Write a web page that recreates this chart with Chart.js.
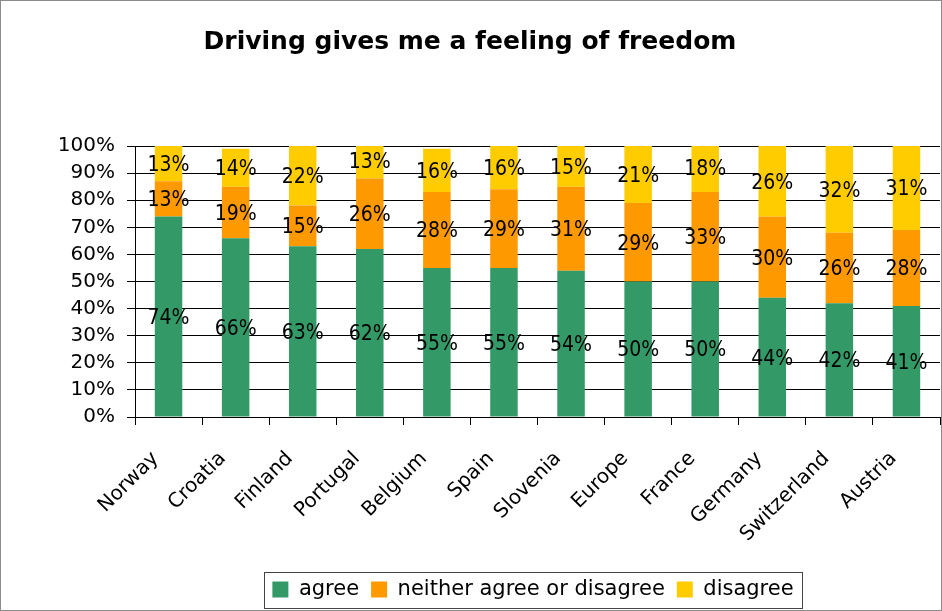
<!DOCTYPE html>
<html>
<head>
<meta charset="utf-8">
<title>Driving gives me a feeling of freedom</title>
<script src="https://cdn.jsdelivr.net/npm/chart.js@4"></script>
<style>
  html, body { margin: 0; padding: 0; background: #fff; }
  #wrap { width: 942px; height: 611px; position: relative; }
</style>
</head>
<body>
<div id="wrap"><canvas id="myChart" width="942" height="611"></canvas></div>
<script>
const countries = ['Norway', 'Croatia', 'Finland', 'Portugal', 'Belgium', 'Spain',
                   'Slovenia', 'Europe', 'France', 'Germany', 'Switzerland', 'Austria'];
const agree    = [74, 66, 63, 62, 55, 55, 54, 50, 50, 44, 42, 41];
const neither  = [13, 19, 15, 26, 28, 29, 31, 29, 33, 30, 26, 28];
const disagree = [13, 14, 22, 13, 16, 16, 15, 21, 18, 26, 32, 31];
const yTicks   = [0, 10, 20, 30, 40, 50, 60, 70, 80, 90, 100];

const FONT = "'DejaVu Sans', sans-serif";
const LEGEND_SHIFT = 63;
const LEGEND_PAD = 12;

// legend sits right of centre; move it after layout
const legendShift = {
  id: 'legendShift',
  afterLayout(chart) {
    const lg = chart.legend;
    // adjustHitBoxes adds the offsets again, so take them off first
    lg.legendHitBoxes.forEach(h => { h.top -= lg.top + LEGEND_PAD; });
    lg.left += LEGEND_SHIFT;
    lg.right += LEGEND_SHIFT;
    lg.adjustHitBoxes();
  }
};

// white page, thin frame round the whole chart, box round the legend items
const framePlugin = {
  id: 'frame',
  beforeDraw(chart) {
    const c = chart.ctx;
    c.save();
    c.fillStyle = '#fff';
    c.fillRect(0, 0, chart.width, chart.height);
    c.restore();
  },
  afterDraw(chart) {
    const c = chart.ctx;
    c.save();
    c.strokeStyle = '#8c8c8c';
    c.lineWidth = 1;
    c.strokeRect(0.5, 0.5, chart.width - 1, chart.height - 1);

    const hits = chart.legend.legendHitBoxes;
    if (hits && hits.length) {
      const first = hits[0], last = hits[hits.length - 1];
      const left = Math.round(first.left - 8);
      const right = Math.round(last.left + last.width + 8);
      const mid = first.top + first.height / 2;
      const top = Math.round(mid - 18);
      c.strokeStyle = '#444';
      c.strokeRect(left + 0.5, top + 0.5, right - left, 36);
    }
    c.restore();
  }
};

// percentage text in the middle of each segment
const valueLabels = {
  id: 'valueLabels',
  afterDatasetsDraw(chart) {
    const c = chart.ctx;
    c.save();
    c.font = "21px 'DejaVu Sans Condensed', 'DejaVu Sans', sans-serif";
    c.fillStyle = '#000';
    c.textAlign = 'center';
    c.textBaseline = 'middle';
    chart.data.datasets.forEach((ds, i) => {
      chart.getDatasetMeta(i).data.forEach((bar, j) => {
        const mid = (bar.y + bar.base) / 2 + 2;
        c.fillText(ds.data[j] + '%', bar.x, mid);
      });
    });
    c.restore();
  }
};

const ctx = document.getElementById('myChart').getContext('2d');
const chart1 = new Chart(ctx, {
  type: 'bar',
  data: {
    labels: countries,
    datasets: [
      { label: 'agree', data: agree, backgroundColor: '#339966' },
      { label: 'neither agree or disagree', data: neither, backgroundColor: '#FF9900' },
      { label: 'disagree', data: disagree, backgroundColor: '#FFCC00' }
    ]
  },
  options: {
    responsive: false,
    animation: false,
    layout: { padding: { left: 0, right: 2, top: 0, bottom: 1 } },
    datasets: {
      bar: { categoryPercentage: 1.0, barPercentage: 0.41 }
    },
    plugins: {
      title: {
        display: true,
        text: 'Driving gives me a feeling of freedom',
        color: '#000',
        font: { family: FONT, size: 25, weight: 'bold' },
        padding: { top: 27, bottom: 89 }
      },
      legend: {
        position: 'bottom',
        labels: {
          color: '#000',
          font: { family: FONT, size: 21 },
          boxWidth: 16,
          boxHeight: 16,
          padding: LEGEND_PAD
        }
      },
      tooltip: { enabled: false }
    },
    scales: {
      x: {
        stacked: true,
        grid: {
          display: true,
          drawOnChartArea: false,
          color: '#000',
          tickLength: 8,
          offset: true
        },
        border: { color: '#000' },
        ticks: {
          color: '#000',
          font: { family: FONT, size: 20 },
          minRotation: 45,
          maxRotation: 45,
          padding: 22,
          labelOffset: -13
        },
        afterFit(scale) {
          scale.height = 150;
          scale.paddingLeft = 0;
          scale.paddingRight = 0;
        }
      },
      y: {
        stacked: true,
        min: 0,
        max: 100,
        afterBuildTicks(scale) {
          scale.ticks = yTicks.map(v => ({ value: v }));
        },
        grid: { color: '#000', tickLength: 8 },
        border: { color: '#000' },
        ticks: {
          color: '#000',
          font: { family: FONT, size: 20 },
          padding: 12,
          callback: v => v + '%'
        },
        afterFit(scale) {
          scale.width = 135;
          scale.paddingTop = 0;
          scale.paddingBottom = 0;
        }
      }
    }
  },
  plugins: [legendShift, framePlugin, valueLabels]
});
</script>
</body>
</html>
